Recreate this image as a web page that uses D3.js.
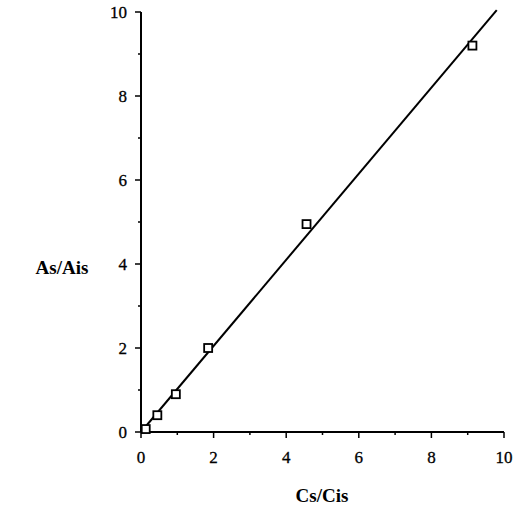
<!DOCTYPE html>
<html>
<head>
<meta charset="utf-8">
<script src="https://cdn.jsdelivr.net/npm/d3@7"></script>
<style>
  body { margin: 0; background: #fff; }
  svg { display: block; }
</style>
</head>
<body>
<svg id="chart" width="513" height="508" font-family="'Liberation Serif', 'Times New Roman', serif"></svg>
<script>
// measured points (Cs/Cis vs As/Ais)
var xValues = [0.13, 0.45, 0.96, 1.85, 4.56, 9.13];
var yValues = [0.07, 0.4, 0.9, 2.0, 4.95, 9.2];
// fitted line
var fitSlope = 1.025;
var fitIntercept = 0;
var fitRange = [0, 9.8];

var majorTicks = [0, 2, 4, 6, 8, 10];
var minorTicks = [1, 3, 5, 7, 9];

var svg = d3.select("#chart");

var x = d3.scaleLinear().domain([0, 10]).range([141, 504]);
var y = d3.scaleLinear().domain([0, 10]).range([432, 12]);

// axes lines
svg.append("line")
    .attr("x1", x(0)).attr("x2", x(10))
    .attr("y1", y(0)).attr("y2", y(0))
    .attr("stroke", "#000").attr("stroke-width", 2);
svg.append("line")
    .attr("x1", x(0)).attr("x2", x(0))
    .attr("y1", y(0)).attr("y2", y(10))
    .attr("stroke", "#000").attr("stroke-width", 2);

// x ticks
svg.selectAll(".xmajor").data(majorTicks).enter().append("line")
    .attr("x1", d => x(d)).attr("x2", d => x(d))
    .attr("y1", y(0)).attr("y2", y(0) + 6)
    .attr("stroke", "#000").attr("stroke-width", 1.5);
svg.selectAll(".xminor").data(minorTicks).enter().append("line")
    .attr("x1", d => x(d)).attr("x2", d => x(d))
    .attr("y1", y(0)).attr("y2", y(0) + 3)
    .attr("stroke", "#000").attr("stroke-width", 1.5);
svg.selectAll(".xlabel").data(majorTicks).enter().append("text")
    .attr("x", d => x(d)).attr("y", y(0) + 31)
    .attr("text-anchor", "middle")
    .attr("font-size", 17)
    .attr("stroke", "#000").attr("stroke-width", 0.3)
    .text(d => d);

// y ticks
svg.selectAll(".ymajor").data(majorTicks).enter().append("line")
    .attr("x1", x(0) - 6).attr("x2", x(0))
    .attr("y1", d => y(d)).attr("y2", d => y(d))
    .attr("stroke", "#000").attr("stroke-width", 1.5);
svg.selectAll(".yminor").data(minorTicks).enter().append("line")
    .attr("x1", x(0) - 3).attr("x2", x(0))
    .attr("y1", d => y(d)).attr("y2", d => y(d))
    .attr("stroke", "#000").attr("stroke-width", 1.5);
svg.selectAll(".ylabel").data(majorTicks).enter().append("text")
    .attr("x", x(0) - 14).attr("y", d => y(d) + 6)
    .attr("text-anchor", "end")
    .attr("font-size", 17)
    .attr("stroke", "#000").attr("stroke-width", 0.3)
    .text(d => d);

// fit line
var line = d3.line().x(d => x(d)).y(d => y(fitSlope * d + fitIntercept));
svg.append("path")
    .datum(fitRange)
    .attr("d", line)
    .attr("fill", "none")
    .attr("stroke", "#000")
    .attr("stroke-width", 2);

// points
var pts = xValues.map((v, i) => [v, yValues[i]]);
svg.selectAll(".pt").data(pts).enter().append("rect")
    .attr("x", d => x(d[0]) - 4)
    .attr("y", d => y(d[1]) - 4)
    .attr("width", 8).attr("height", 8)
    .attr("fill", "#fff")
    .attr("stroke", "#000")
    .attr("stroke-width", 1.8);

// axis titles
svg.append("text")
    .attr("x", 62).attr("y", 274)
    .attr("text-anchor", "middle")
    .attr("font-size", 19).attr("font-weight", "bold")
    .text("As/Ais");
svg.append("text")
    .attr("x", 322).attr("y", 502)
    .attr("text-anchor", "middle")
    .attr("font-size", 19).attr("font-weight", "bold")
    .text("Cs/Cis");
</script>
</body>
</html>
